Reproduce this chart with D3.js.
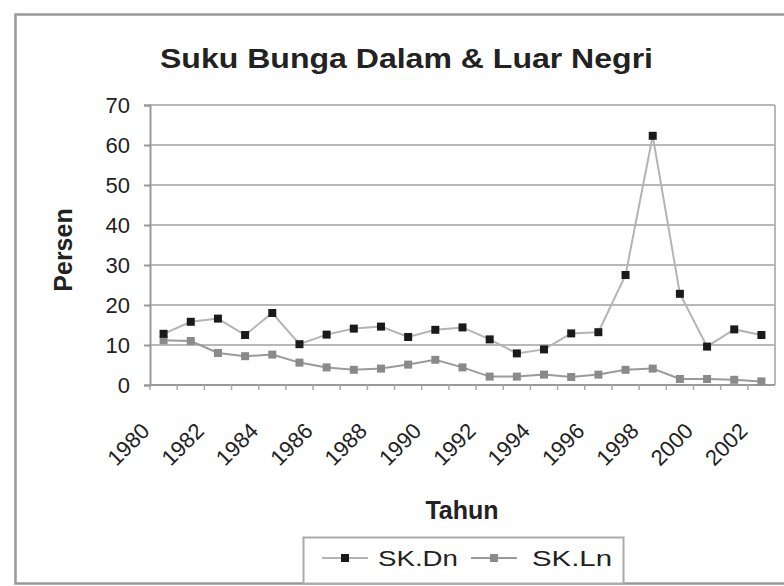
<!DOCTYPE html>
<html>
<head>
<meta charset="utf-8">
<script src="https://cdn.jsdelivr.net/npm/d3@7"></script>
<style>
  body { margin: 0; background: #fff; }
  text { font-family: "Liberation Sans", Arial, sans-serif; fill: #222; }
</style>
</head>
<body>
<div class="chart"></div>
<script>
var width = 784, height = 586

// data
var years = ["1980","1981","1982","1983","1984","1985","1986","1987","1988","1989","1990","1991",
             "1992","1993","1994","1995","1996","1997","1998","1999","2000","2001","2002"]
var yearLabels = ["1980","1982","1984","1986","1988","1990","1992","1994","1996","1998","2000","2002"]
var skDn = [12.8, 15.8, 16.6, 12.5, 18.0, 10.2, 12.6, 14.1, 14.6, 12.0, 13.8, 14.4,
            11.4, 7.9, 8.9, 12.9, 13.2, 27.5, 62.3, 22.8, 9.6, 13.9, 12.5]
var skLn = [11.2, 11.0, 8.0, 7.2, 7.6, 5.6, 4.4, 3.8, 4.1, 5.1, 6.3, 4.4,
            2.1, 2.1, 2.6, 2.0, 2.6, 3.8, 4.1, 1.5, 1.5, 1.3, 0.9]
var yTicks = [0, 10, 20, 30, 40, 50, 60, 70]

const svg = d3.select('.chart')
    .append('svg')
    .attr("width", width)
    .attr("height", height)

// chart area border
svg.append("rect")
    .attr("x", 15.5).attr("y", 14.5)
    .attr("width", 790).attr("height", 569)
    .attr("fill", "#fff")
    .attr("stroke", "#999")
    .attr("stroke-width", 2.5)

var x = d3.scaleBand().domain(years).range([150, 775])
var y = d3.scaleLinear().domain([0, 70]).range([385, 105])
var cx = function(d, i){ return x(years[i]) + x.bandwidth() / 2 }

// gridlines
svg.append("g")
    .selectAll("line")
    .data(yTicks)
    .enter()
    .append("line")
    .attr("x1", 150).attr("x2", 775)
    .attr("y1", function(d){ return y(d) }).attr("y2", function(d){ return y(d) })
    .attr("stroke", "#b8b8b8")
    .attr("stroke-width", 2)

// right border of plot
svg.append("line")
    .attr("x1", 775).attr("x2", 775).attr("y1", y(70)).attr("y2", y(0))
    .attr("stroke", "#b8b8b8").attr("stroke-width", 2)

// y axis
var yAxis = d3.axisLeft(y).tickValues(yTicks).tickSize(6).tickPadding(14)
var gy = svg.append("g").attr("transform", "translate(150,0)").call(yAxis)
gy.select(".domain").attr("stroke", "#999").attr("stroke-width", 2)
gy.selectAll(".tick line").attr("stroke", "#999").attr("stroke-width", 2)
gy.selectAll(".tick text")
    .attr("font-size", 22)
    .attr("fill", "#333")
    .style("font-family", "'Liberation Sans', Arial, sans-serif")

// x axis line and ticks at category boundaries
svg.append("line")
    .attr("x1", 150).attr("x2", 775).attr("y1", y(0)).attr("y2", y(0))
    .attr("stroke", "#999").attr("stroke-width", 2)
svg.append("g")
    .selectAll("line")
    .data(years)
    .enter()
    .append("line")
    .attr("x1", function(d){ return x(d) }).attr("x2", function(d){ return x(d) })
    .attr("y1", y(0)).attr("y2", y(0) + 5)
    .attr("stroke", "#aaa").attr("stroke-width", 1.5)

// rotated year labels
svg.append("g")
    .selectAll("text")
    .data(yearLabels)
    .enter()
    .append("text")
    .attr("transform", function(d){
        var px = x(d) + x.bandwidth() / 2 - 18
        return "translate(" + px + ",427) rotate(-45)"
    })
    .attr("text-anchor", "end")
    .attr("dy", "0.35em")
    .attr("font-size", 22)
    .attr("fill", "#333")
    .text(function(d){ return d })

// series
var line = d3.line()
    .x(cx)
    .y(function(d){ return y(d) })

svg.append("path")
    .attr("d", line(skLn))
    .attr("fill", "none")
    .attr("stroke", "#9a9a9a")
    .attr("stroke-width", 2)

svg.append("path")
    .attr("d", line(skDn))
    .attr("fill", "none")
    .attr("stroke", "#b4b4b4")
    .attr("stroke-width", 2)

svg.append("g")
    .selectAll("rect")
    .data(skLn)
    .enter()
    .append("rect")
    .attr("x", function(d, i){ return cx(d, i) - 4 })
    .attr("y", function(d){ return y(d) - 4 })
    .attr("width", 8).attr("height", 8)
    .attr("fill", "#8a8a8a")

svg.append("g")
    .selectAll("rect")
    .data(skDn)
    .enter()
    .append("rect")
    .attr("x", function(d, i){ return cx(d, i) - 4 })
    .attr("y", function(d){ return y(d) - 4 })
    .attr("width", 8).attr("height", 8)
    .attr("fill", "#1a1a1a")

// titles
svg.append("text")
    .attr("x", 160).attr("y", 68)
    .attr("font-size", 28)
    .attr("font-weight", "bold")
    .attr("fill", "#333")
    .attr("textLength", 493)
    .attr("lengthAdjust", "spacingAndGlyphs")
    .text("Suku Bunga Dalam & Luar Negri")

svg.append("text")
    .attr("x", 462).attr("y", 519)
    .attr("text-anchor", "middle")
    .attr("font-size", 25)
    .attr("font-weight", "bold")
    .attr("fill", "#333")
    .text("Tahun")

svg.append("text")
    .attr("transform", "translate(72,250) rotate(-90)")
    .attr("text-anchor", "middle")
    .attr("font-size", 25)
    .attr("font-weight", "bold")
    .attr("fill", "#333")
    .text("Persen")

// legend
var lg = svg.append("g")
lg.append("rect")
    .attr("x", 303.5).attr("y", 537.5)
    .attr("width", 320).attr("height", 46)
    .attr("fill", "#fff")
    .attr("stroke", "#aaa")
    .attr("stroke-width", 2)

var legendItems = [
    {name: "SK.Dn", line: "#b4b4b4", mark: "#1a1a1a", x0: 322, tx: 378},
    {name: "SK.Ln", line: "#9a9a9a", mark: "#8a8a8a", x0: 471, tx: 532}
]
var li = lg.selectAll("g.item").data(legendItems).enter().append("g").attr("class", "item")
li.append("line")
    .attr("x1", function(d){ return d.x0 }).attr("x2", function(d){ return d.x0 + 46 })
    .attr("y1", 558).attr("y2", 558)
    .attr("stroke", function(d){ return d.line }).attr("stroke-width", 2)
li.append("rect")
    .attr("x", function(d){ return d.x0 + 19 }).attr("y", 554)
    .attr("width", 8).attr("height", 8)
    .attr("fill", function(d){ return d.mark })
li.append("text")
    .attr("x", function(d){ return d.tx }).attr("y", 566)
    .attr("font-size", 22)
    .attr("fill", "#333")
    .attr("textLength", 80)
    .attr("lengthAdjust", "spacingAndGlyphs")
    .text(function(d){ return d.name })
</script>
</body>
</html>
